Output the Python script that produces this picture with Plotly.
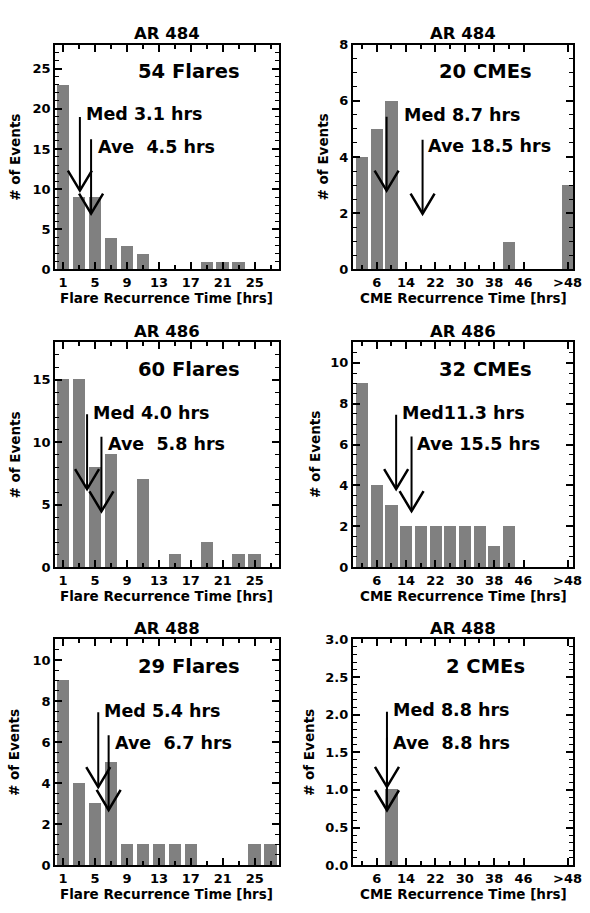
import plotly.graph_objects as go

# ---------------- data ----------------
flare_bins = [1, 3, 5, 7, 9, 11, 13, 15, 17, 19, 21, 23, 25, 27]
cme_bins = [2, 6, 10, 14, 18, 22, 26, 30, 34, 38, 42, 46, 58]
cme_tickvals = [6, 14, 22, 30, 38, 46, 58]
cme_ticktext = ["6", "14", "22", "30", "38", "46", ">48"]
flare_tickvals = [1, 5, 9, 13, 17, 21, 25]

ar484_flares = [23, 9, 9, 4, 3, 2, 0, 0, 0, 1, 1, 1, 0, 0]
ar484_cmes = [4, 5, 6, 0, 0, 0, 0, 0, 0, 0, 1, 0, 3]
ar486_flares = [15, 15, 8, 9, 0, 7, 0, 1, 0, 2, 0, 1, 1, 0]
ar486_cmes = [9, 4, 3, 2, 2, 2, 2, 2, 2, 1, 2, 0, 0]
ar488_flares = [9, 4, 3, 5, 1, 1, 1, 1, 1, 0, 0, 0, 1, 1]
ar488_cmes = [0, 0, 1, 0, 0, 0, 0, 0, 0, 0, 0, 0, 0]

titles = ["AR 484", "AR 484", "AR 486", "AR 486", "AR 488", "AR 488"]
count_labels = ["54 Flares", "20 CMEs", "60 Flares", "32 CMEs", "29 Flares", "2 CMEs"]
medians = [3.1, 8.7, 4.0, 11.3, 5.4, 8.8]
means = [4.5, 18.5, 5.8, 15.5, 6.7, 8.8]
med_labels = ["Med 3.1 hrs", "Med 8.7 hrs", "Med 4.0 hrs", "Med11.3 hrs", "Med 5.4 hrs", "Med 8.8 hrs"]
ave_labels = ["Ave\u00a0 4.5 hrs", "Ave 18.5 hrs", "Ave\u00a0 5.8 hrs", "Ave 15.5 hrs",
              "Ave\u00a0 6.7 hrs", "Ave\u00a0 8.8 hrs"]
# arrow extents (y, data units): top of shaft, arrow tip
med_top = [19.0, 5.43, 12.24, 7.46, 7.45, 2.04]
med_tip = [9.8, 2.8, 6.25, 3.82, 3.8, 1.04]
ave_top = [16.2, 4.61, 10.45, 6.39, 6.33, 1.7]
ave_tip = [6.95, 1.98, 4.47, 2.74, 2.69, 0.73]
med_text_y = [19.33, 5.51, 12.35, 7.56, 7.53, 2.06]
ave_text_y = [15.3, 4.38, 9.85, 6.04, 5.93, 1.62]

series = [ar484_flares, ar484_cmes, ar486_flares, ar486_cmes, ar488_flares, ar488_cmes]
is_flare = [True, False, True, False, True, False]
y_ranges = [[0, 28], [0, 8], [0, 18], [0, 11], [0, 11], [0, 3]]
y_dticks = [5, 2, 5, 2, 2, 0.5]
y_minor = [1, 0.5, 1, 0.5, 0.5, 0.1]
y_formats = ["d", "d", "d", "d", "d", ".1f"]

# ---------------- layout geometry ----------------
W, H = 590, 913
col_px = [(56, 283), (358.3, 582.3)]
row_px = [(38.3, 266.7), (341.0, 569.5), (643.0, 872.5)]
ytitle_px = [15, 328.5, 15, 320, 15, 314.5]
med_xshift = [5.7, 17.3, 5.8, 6.0, 5.6, 6.3]
ave_xshift = [6.8, 5.0, 6.4, 5.7, 5.9, 6.3]

FONT = "DejaVu Sans"
BAR_COLOR = "#808080"

fig = go.Figure()
layout = dict(
    width=W, height=H, margin=dict(l=0, r=0, t=0, b=0),
    paper_bgcolor="white", plot_bgcolor="white", showlegend=False,
    font=dict(family=FONT, color="black"),
    bargap=0,
)
annotations = []
shapes = []

for i in range(6):
    r, c = divmod(i, 2)
    x0p, x1p = col_px[c]
    top, bot = row_px[r]
    xd = [x0p / W, x1p / W]
    yd = [1 - bot / H, 1 - top / H]
    sfx = "" if i == 0 else str(i + 1)
    xa, ya = "x" + sfx, "y" + sfx

    flare = is_flare[i]
    fig.add_trace(go.Bar(
        x=flare_bins if flare else cme_bins, y=series[i],
        width=1.55 if flare else 3.3,
        marker=dict(color=BAR_COLOR, line=dict(width=0)),
        xaxis=xa, yaxis=ya, hoverinfo="skip",
    ))

    xaxis = dict(
        domain=xd, anchor=ya, showgrid=False, zeroline=False,
        showline=True, linewidth=2, linecolor="black", mirror="allticks",
        ticks="inside", ticklen=7, tickwidth=1.5, tickcolor="black",
        tickfont=dict(family=FONT, size=13, weight="bold"),
        ticklabeloverflow="allow",
        fixedrange=True,
    )
    if flare:
        xaxis.update(range=[0, 28], tickvals=flare_tickvals,
                     minor=dict(ticks="inside", ticklen=4, tickwidth=1.5, tickcolor="black",
                                tick0=1, dtick=2, showgrid=False))
    else:
        xaxis.update(range=[-0.5, 59.6], tickvals=cme_tickvals, ticktext=cme_ticktext,
                     minor=dict(ticks="inside", ticklen=4, tickwidth=1.5, tickcolor="black",
                                tickvals=[2, 10, 18, 26, 34, 42], showgrid=False))
    yaxis = dict(
        domain=yd, anchor=xa, range=y_ranges[i], dtick=y_dticks[i], tick0=0,
        tickformat=y_formats[i], showgrid=False, zeroline=False,
        showline=True, linewidth=2, linecolor="black", mirror="allticks",
        ticks="inside", ticklen=7, tickwidth=1.5, tickcolor="black",
        tickfont=dict(family=FONT, size=13, weight="bold"),
        minor=dict(ticks="inside", ticklen=4, tickwidth=1, tickcolor="black",
                   dtick=y_minor[i], showgrid=False),
        fixedrange=True,
    )
    layout["xaxis" + sfx] = xaxis
    layout["yaxis" + sfx] = yaxis

    # title
    annotations.append(dict(
        text=titles[i], xref="paper", yref="paper",
        x=(x0p + x1p) / 2 / W, y=1 - (top - 11) / H, xanchor="center", yanchor="middle",
        showarrow=False, font=dict(family=FONT, size=16.5, weight="bold")))
    # count label
    annotations.append(dict(
        text=count_labels[i], xref=xa + " domain", yref=ya + " domain",
        x=0.6, y=0.88, xanchor="center", yanchor="middle",
        showarrow=False, font=dict(family=FONT, size=19.5, weight="bold")))
    # x-axis title
    annotations.append(dict(
        text="Flare Recurrence Time [hrs]" if flare else "CME Recurrence Time [hrs]",
        xref="paper", yref="paper",
        x=(x0p + x1p) / 2 / W, y=1 - (bot + 29.5) / H, xanchor="center", yanchor="middle",
        showarrow=False, font=dict(family=FONT, size=13.5, weight="bold")))
    # y-axis title
    annotations.append(dict(
        text="# of Events", xref="paper", yref="paper",
        x=ytitle_px[i] / W, y=1 - (top + bot) / 2 / H,
        xanchor="center", yanchor="middle", textangle=-90,
        showarrow=False, font=dict(family=FONT, size=13.5, weight="bold")))
    # med / ave labels
    annotations.append(dict(
        text=med_labels[i], xref=xa, yref=ya, x=medians[i], y=med_text_y[i],
        xanchor="left", yanchor="middle", xshift=med_xshift[i] - 2,
        showarrow=False, font=dict(family=FONT, size=17.5, weight="bold")))
    annotations.append(dict(
        text=ave_labels[i], xref=xa, yref=ya, x=means[i], y=ave_text_y[i],
        xanchor="left", yanchor="middle", xshift=ave_xshift[i] - 2,
        showarrow=False, font=dict(family=FONT, size=17.5, weight="bold")))

    # arrows
    for xv, yt, yb in [(medians[i], med_top[i], med_tip[i]), (means[i], ave_top[i], ave_tip[i])]:
        shapes.append(dict(type="line", xref=xa, yref=ya, x0=xv, x1=xv, y0=yt, y1=yb,
                           line=dict(color="black", width=2)))
        shapes.append(dict(type="path", xref=xa, yref=ya,
                           xsizemode="pixel", ysizemode="pixel", xanchor=xv, yanchor=yb,
                           path="M -12,20 L 0,0 L 12,20",
                           line=dict(color="black", width=2.5)))

layout["annotations"] = annotations
layout["shapes"] = shapes
fig.update_layout(**layout)
fig.write_html("out.html")
